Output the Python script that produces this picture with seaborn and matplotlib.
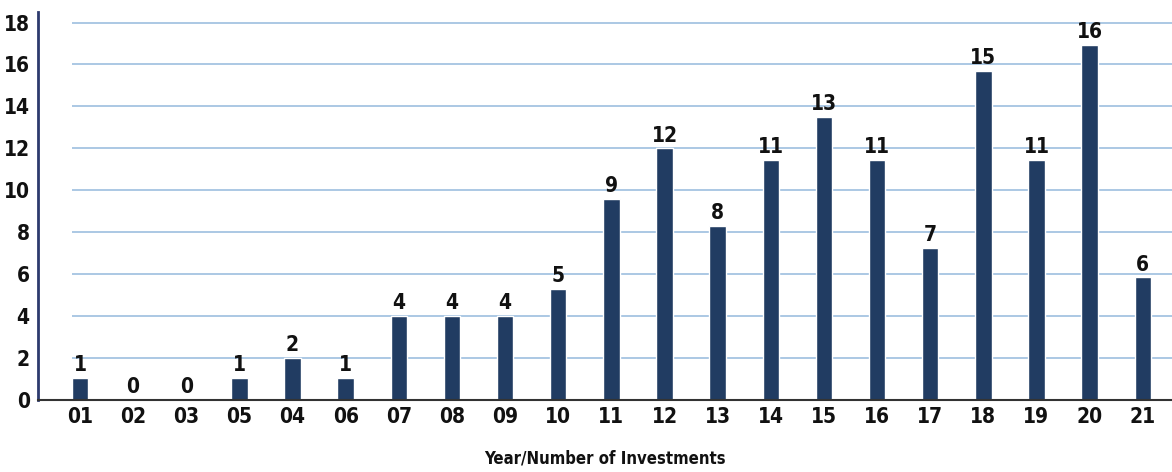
import matplotlib
matplotlib.use('Agg')
import matplotlib.pyplot as plt
import seaborn as sns
import pandas as pd

# ── Data ─────────────────────────────────────────────────
years = ['01', '02', '03', '05', '04', '06', '07', '08', '09', '10', '11',
         '12', '13', '14', '15', '16', '17', '18', '19', '20', '21']
# printed value above each bar
counts = [1, 0, 0, 1, 2, 1, 4, 4, 4, 5, 9, 12, 8, 11, 13, 11, 7, 15, 11, 16, 6]
# bar heights as drawn (the scan's bars don't always match their labels)
bar_heights = [1.05, 0, 0, 1.05, 2.0, 1.05, 4.0, 4.0, 4.0, 5.3, 9.6, 12.0, 8.3,
               11.45, 13.5, 11.45, 7.25, 15.7, 11.45, 16.95, 5.85]
y_ticks = [0, 2, 4, 6, 8, 10, 12, 14, 16, 18]

df = pd.DataFrame({'year': years, 'height': bar_heights})

sns.set_style('white')
plt.rcParams['font.family'] = ['DejaVu Sans']
plt.rcParams['font.stretch'] = 'condensed'

bar_color = '#213c62'
grid_color = '#9dbfdf'
txt = dict(fontweight='bold', color='#111111', stretch='condensed')

fig = plt.figure(figsize=(11.72, 4.72), dpi=100)
ax = fig.add_axes([0.0324, 0.1525, 0.9676, 0.822])

sns.barplot(data=df, x='year', y='height', color=bar_color, width=0.31,
            saturation=1, ax=ax)

ax.set_xlim(-0.79, 20.55)
ax.set_ylim(0, 18.5)

# light blue grid, starting a little right of the y axis
ax.hlines(y_ticks[1:], 0.03, 1, transform=ax.get_yaxis_transform(),
          color=grid_color, linewidth=1.2, zorder=0)

ax.bar_label(ax.containers[0], labels=[str(c) for c in counts], padding=2,
             fontsize=15, **txt)

ax.set_yticks(y_ticks)
ax.set_yticklabels([str(t) for t in y_ticks], fontsize=15, **txt)
ax.set_xticks(range(len(years)))
ax.set_xticklabels(years, fontsize=15, **txt)
ax.tick_params(axis='both', length=0)
ax.tick_params(axis='y', pad=6)
ax.tick_params(axis='x', pad=5)

ax.set_xlabel('Year/Number of Investments', fontsize=12, labelpad=16, **txt)
ax.set_ylabel('')

for side in ['top', 'right']:
    ax.spines[side].set_visible(False)
ax.spines['left'].set_color('#2d3a6e')
ax.spines['left'].set_linewidth(2)
ax.spines['bottom'].set_color('#333333')
ax.spines['bottom'].set_linewidth(1.5)

plt.savefig('out.png', dpi=100)
plt.close()
